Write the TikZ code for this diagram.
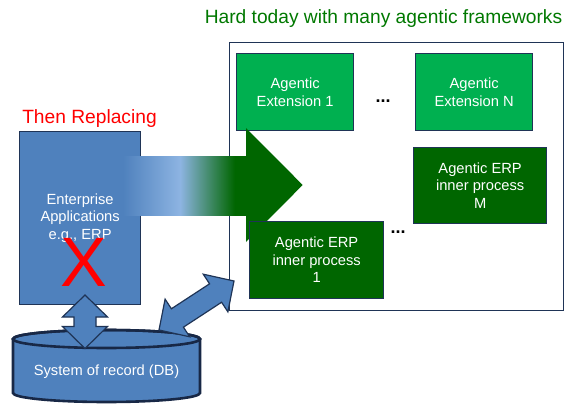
\documentclass[tikz,border=0pt]{standalone}
\usepackage{fontspec}
\setmainfont{Liberation Sans}
\usetikzlibrary{calc}

\definecolor{boxblue}{RGB}{79,129,189}
\definecolor{paleblue}{RGB}{141,180,226}
\definecolor{erpgreen}{RGB}{0,102,0}
\definecolor{extgreen}{RGB}{0,176,80}
\definecolor{edgenavy}{RGB}{31,52,86}
\definecolor{dbnavy}{RGB}{24,40,70}
\definecolor{titlegreen}{RGB}{0,120,0}

% blue-to-green fade of the big arrow's shaft (25bp..75bp spans the path)
\pgfdeclarehorizontalshading{shaftfade}{100bp}{color(0bp)=(boxblue); color(25bp)=(boxblue); color(48bp)=(paleblue); color(70bp)=(erpgreen); color(100bp)=(erpgreen)}

\newcommand\boxfont{\fontsize{14.7}{17.5}\selectfont}
\newcommand\headfont{\fontsize{19.2}{22}\selectfont}

% two-headed block arrow from tip #1 to tip #2
\newcommand\dblblock[2]{%
  \coordinate (ha) at ($(#1)!22pt!(#2)$);
  \coordinate (hb) at ($(#2)!22pt!(#1)$);
  \filldraw[blockarrow] (#1) -- ($(ha)!22.5pt!90:(#2)$) -- ($(ha)!11pt!90:(#2)$)
    -- ($(hb)!11pt!-90:(#1)$) -- ($(hb)!22.5pt!-90:(#1)$) -- (#2)
    -- ($(hb)!22.5pt!90:(#1)$) -- ($(hb)!11pt!90:(#1)$)
    -- ($(ha)!11pt!-90:(#2)$) -- ($(ha)!22.5pt!-90:(#2)$) -- cycle;}

\tikzset{
  panel/.style={draw=edgenavy, line width=1.3pt, fill=white, rectangle, inner sep=0pt, anchor=north west},
  tile/.style={draw=edgenavy, line width=1.3pt, rectangle, inner sep=0pt, anchor=north west,
    text=white, align=center, font=\boxfont},
  exttile/.style={tile, fill=extgreen, minimum width=117pt, minimum height=77pt},
  proctile/.style={tile, fill=erpgreen},
  apptile/.style={tile, fill=boxblue, minimum width=121pt, minimum height=173pt},
  blockarrow/.style={fill=boxblue, draw=edgenavy, line width=1.2pt, line join=miter},
  dbshape/.style={fill=boxblue, draw=dbnavy, line width=2.6pt},
  dotsep/.style={font=\fontsize{18}{18}\selectfont\bfseries, inner sep=0pt, anchor=base},
}

\begin{document}
\begin{tikzpicture}[x=1pt, y=-1pt]
\useasboundingbox (0,0) rectangle (566,404);

% headings
\node[font=\headfont, text=titlegreen, inner sep=0pt, anchor=base] (title) at (383.5,24) {Hard today with many agentic frameworks};
\node[font=\headfont, text=red, inner sep=0pt, anchor=base] (replace) at (89.5,124) {Then Replacing};

% frame holding the agentic parts
\node[panel, minimum width=334pt, minimum height=268pt] (frame) at (229,42) {};

% legacy application
\node[apptile] (erp) at (19,131) {Enterprise\\Applications\\e.g., ERP};

% agentic extensions
\node[exttile] (ext1) at (236,53) {Agentic\\Extension 1};
\node[exttile] (extN) at (415,53) {Agentic\\Extension N};
\node[dotsep] (dots1) at (383,102.4) {...};

% big replacing arrow: faded shaft and green head
\fill[shading=shaftfade] (123,157) rectangle (247,215);
\fill[erpgreen] (246,128) -- (302.7,185) -- (246,242) -- cycle;

% agentic ERP inner processes
\node[proctile, minimum width=133pt, minimum height=76pt] (procM) at (413,147) {Agentic ERP\\inner process\\M};
\node[proctile, minimum width=134pt, minimum height=77pt] (proc1) at (249,221) {Agentic ERP\\inner process\\1};
\node[dotsep] (dots2) at (398,233.7) {...};

% system of record cylinder
\path[dbshape] (13,339) -- (13,393) arc[start angle=180, end angle=360, x radius=93.5pt, y radius=9pt]
  -- (200,339) arc[start angle=0, end angle=180, x radius=93.5pt, y radius=9pt] -- cycle;
\draw[dbnavy, line width=2.6pt] (106.5,339) ellipse[x radius=93.5pt, y radius=9pt];
\node[font=\boxfont, text=white, inner sep=0pt] (db) at (106.5,372) {System of record (DB)};

% links to the system of record
\coordinate (erpdock) at (85,295);
\coordinate (dbtop) at (85,348.5);
\coordinate (dbedge) at (159,330);
\coordinate (framedock) at (234,281);
\dblblock{erpdock}{dbtop}
\dblblock{dbedge}{framedock}

% crossed out
\node[font=\fontsize{70}{70}\selectfont, text=red, inner sep=0pt] (cross) at (83.5,262) {X};
\end{tikzpicture}
\end{document}
